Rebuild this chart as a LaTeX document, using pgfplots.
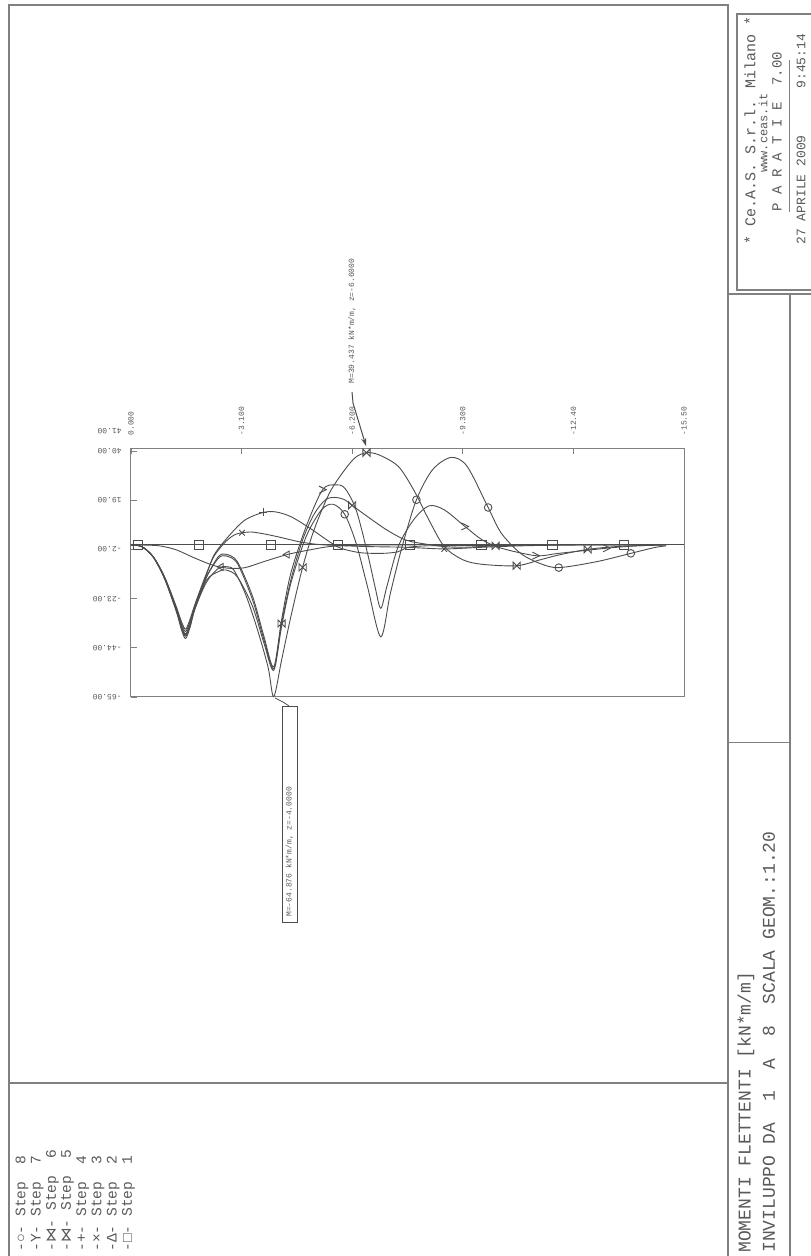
\documentclass[border=0pt]{standalone}
\usepackage{pgfplots}
\pgfplotsset{compat=1.18}
\usepackage{fontspec}
\setmainfont{Liberation Mono}
\newfontfamily\djv{DejaVu Sans}
\usetikzlibrary{arrows.meta}
\definecolor{ink}{gray}{0.3}
\definecolor{txt}{gray}{0.35}
\definecolor{frm}{gray}{0.5}

\pgfdeclareplotmark{bowtie}{%
 \pgfpathmoveto{\pgfqpoint{-\pgfplotmarksize}{\pgfplotmarksize}}%
 \pgfpathlineto{\pgfqpoint{-\pgfplotmarksize}{-\pgfplotmarksize}}%
 \pgfpathlineto{\pgfqpoint{\pgfplotmarksize}{\pgfplotmarksize}}%
 \pgfpathlineto{\pgfqpoint{\pgfplotmarksize}{-\pgfplotmarksize}}%
 \pgfpathclose\pgfusepathqstroke}
\pgfdeclareplotmark{chev}{%
 \pgfpathmoveto{\pgfqpoint{-\pgfplotmarksize}{\pgfplotmarksize}}%
 \pgfpathlineto{\pgfqpoint{\pgfplotmarksize}{0pt}}%
 \pgfpathlineto{\pgfqpoint{-\pgfplotmarksize}{-\pgfplotmarksize}}%
 \pgfusepathqstroke}

\begin{document}
\begin{tikzpicture}
\begin{scope}[x=0.5pt,y=-0.5pt]
\path[use as bounding box] (0,0) rectangle (810,1256);
% frame
\draw[frm, line width=0.6pt] (9,1256) -- (9,5) -- (728,5) -- (728,1256);
\draw[frm, line width=0.6pt] (9,1083) -- (728,1083);
\draw[frm, line width=0.6pt] (737,14) rectangle (815,290);
\draw[frm, line width=0.6pt] (728,294) -- (812,294);
\draw[frm, line width=0.6pt] (790,294) -- (790,1256);
\draw[frm, line width=0.5pt] (728,742) -- (790,742);
% title strip
\node[rotate=90, anchor=west, text=txt, font=\fontsize{9}{9}\selectfont, inner sep=0pt] at (746,1253) {MOMENTI FLETTENTI [kN*m/m]};
\node[rotate=90, anchor=west, text=txt, font=\fontsize{9}{9}\selectfont, inner sep=0pt] at (769,1253) {INVILUPPO DA~~1~~A~~8~~SCALA GEOM.:1.20};
% title block
\node[rotate=90, anchor=west, text=txt, font=\fontsize{7.5}{7.5}\selectfont, inner sep=0pt] at (750,245) {* Ce.A.S. S.r.l. Milano *};
\node[rotate=90, text=txt, font=\fontsize{6}{6}\selectfont, inner sep=0pt] at (763,133) {www.ceas.it};
\node[rotate=90, anchor=west, text=txt, font=\fontsize{7}{7}\selectfont, inner sep=0pt] at (777,212) {P A R A T I E~~7.00};
\draw[frm, line width=0.5pt] (789,60) -- (789,212);
\node[rotate=90, anchor=west, text=txt, font=\fontsize{6.5}{6.5}\selectfont, inner sep=0pt] at (801,245) {27 APRILE 2009~~~~~~9:45:14};
% legend
\foreach \i/\m in {0/{-○-},1/{-Y-},2/{-{\djv ⋈}-},3/{-{\djv ⋈}-},4/{-+-},5/{-×-},6/{-Δ-},7/{-□-}}{
  \pgfmathtruncatemacro{\s}{8-\i}
  \node[rotate=90, anchor=west, text=txt, font=\fontsize{7.3}{7.3}\selectfont, inner sep=0pt] at (22+15.2*\i,1252) {\m~Step~~\s};
}
% annotations
\draw[ink, line width=0.4pt] (275,698) -- (283,702) -- (289,706);
\draw[ink, line width=0.5pt] (282,706) rectangle (297,922);
\node[rotate=90, anchor=west, text=txt, font=\fontsize{4}{4}\selectfont, inner sep=0pt] at (289.5,917) {M=-64.876 kN*m/m, z=-4.0000};
\node[rotate=90, anchor=west, text=txt, font=\fontsize{4}{4}\selectfont, inner sep=0pt] at (352,384) {M=39.437 kN*m/m, z=-6.6000};
\draw[ink, line width=0.5pt, -{Stealth[length=4pt,width=2.5pt]}] (352,392) -- (353,403) -- (366,446);
\node[rotate=180, anchor=west, text=txt, font=\fontsize{4}{4}\selectfont, inner sep=0pt] at (122,431) {41.00};
\end{scope}

\begin{axis}[
  at={(65.5pt,-224pt)}, anchor=north west,
  scale only axis, width=276.5pt, height=124.5pt,
  xmin=-15.5, xmax=0, x dir=reverse, ymin=-65, ymax=41.43,
  axis line style={frm, line width=0.5pt},
  xtick={0,-3.1,-6.2,-9.3,-12.4,-15.5},
  xticklabels={0.000,-3.100,-6.200,-9.300,-12.40,-15.50},
  xtick pos=right, xticklabel pos=right, ytick pos=left,
  tick align=inside, major tick length=3pt,
  tick style={frm, line width=0.4pt},
  ytick={-65,-44,-23,-2,19,40},
  yticklabels={-65.00,-44.00,-23.00,-2.00,19.00,40.00},
  x tick label style={rotate=90, anchor=west, inner xsep=6pt, inner ysep=0pt, font=\fontsize{4}{4}\selectfont, text=txt},
  y tick label style={rotate=180, anchor=west, inner xsep=4.5pt, inner ysep=0pt, font=\fontsize{4}{4}\selectfont, text=txt},
  clip=false,
  every axis plot/.append style={ink, line width=0.45pt},
]
% Step 1
\addplot[no marks] coordinates {(0,0) (-15.5,0)};
\addplot[only marks, mark=square, mark size=2.3pt] coordinates {(-0.19,0) (-1.91,0) (-3.92,0) (-5.80,0) (-7.81,0) (-9.82,0) (-11.81,0) (-13.82,0)};
% Step 2
\addplot[smooth, no marks] coordinates {(0,0) (-0.5,-0.1) (-0.84,-0.5) (-1.27,-2.1) (-1.80,-5.7) (-2.34,-8.9) (-2.77,-10.0) (-3.20,-9.7) (-3.73,-7.1) (-4.38,-4.1) (-5.02,-2.1) (-5.56,-0.7) (-6.2,-0.2) (-7.0,0) (-8.0,0)};
\addplot[only marks, mark=triangle, mark size=2pt, mark options={rotate=90}] coordinates {(-2.53,-9.4) (-4.38,-4.1)};
% Step 3
\addplot[smooth, no marks] coordinates {(0,0) (-0.30,-0.7) (-0.62,-5.0) (-0.94,-13.6) (-1.27,-26.4) (-1.42,-33) (-1.53,-36) (-1.65,-32) (-1.80,-25) (-2.12,-12) (-2.34,-4.5) (-2.66,1.5) (-2.90,4.3) (-3.11,5.2) (-3.40,5.5) (-3.80,4.5) (-4.20,3.2) (-4.70,1.4) (-5.13,0.4) (-5.56,-0.1) (-6.63,-0.7) (-7.70,-1.0) (-8.78,-1.7) (-9.85,-1.0) (-10.92,-0.4) (-12.0,-0.1) (-13.5,0) (-15.0,0)};
\addplot[only marks, mark=x, mark size=2pt] coordinates {(-3.11,5.2) (-8.78,-1.7)};
% Step 4
\addplot[smooth, no marks] coordinates {(0,0) (-0.30,-0.7) (-0.62,-5.0) (-0.94,-13.8) (-1.27,-27) (-1.42,-34) (-1.53,-37) (-1.65,-33) (-1.80,-26) (-2.12,-12.5) (-2.34,-4) (-2.77,4.3) (-3.20,10.7) (-3.71,13.9) (-4.06,14.1) (-4.48,12.1) (-5.02,7.1) (-5.56,1.4) (-5.88,-1.4) (-6.42,-3.3) (-7.06,-3.6) (-7.49,-2.9) (-7.75,-1.1) (-8.24,-0.4) (-9,-0.3) (-10,-0.2) (-12,0) (-15,0)};
\addplot[only marks, mark=+, mark size=2pt] coordinates {(-3.71,13.9)};
% Step 5
\addplot[smooth, no marks] coordinates {(0,0) (-0.30,-0.7) (-0.62,-5.0) (-0.94,-14) (-1.27,-27.5) (-1.42,-35) (-1.53,-38) (-1.65,-34) (-1.80,-26) (-2.12,-13.6) (-2.45,-5.7) (-2.66,-4.7) (-2.98,-7.9) (-3.41,-23.6) (-3.73,-40.7) (-4.00,-52.9) (-4.22,-33.6) (-4.48,-15.0) (-4.81,2.1) (-5.13,13.1) (-5.45,19.3) (-5.72,20.3) (-5.99,19.3) (-6.20,16.9) (-6.63,12.1) (-7.17,6.4) (-7.70,2.1) (-8.24,0.4) (-8.78,-0.7) (-9.31,-1.0) (-10.22,-0.4) (-11,-0.1) (-12,0)};
\addplot[only marks, mark=bowtie, mark size=1.8pt] coordinates {(-4.22,-33.6) (-6.20,16.9) (-10.22,-0.4)};
% Step 6
\addplot[smooth, no marks] coordinates {(0,0) (-0.30,-0.7) (-0.62,-5.2) (-0.94,-14.5) (-1.27,-28.5) (-1.42,-36.5) (-1.53,-40) (-1.65,-35.5) (-1.80,-27) (-2.12,-15.8) (-2.45,-10.0) (-2.66,-9.3) (-2.88,-10.7) (-3.20,-20.7) (-3.52,-35.0) (-3.84,-52.1) (-4.00,-64.876) (-4.22,-49.3) (-4.48,-30.7) (-4.81,-9.6) (-5.13,6.4) (-5.56,22.1) (-5.99,32.1) (-6.30,37.5) (-6.60,39.437) (-6.95,38.5) (-7.49,33.6) (-7.92,23.6) (-8.35,10.7) (-8.78,-0.7) (-9.31,-6.4) (-9.85,-8.3) (-10.81,-8.9) (-11.46,-6.4) (-11.99,-4.3) (-12.80,-1.9) (-13.60,-0.7) (-14.35,-0.3) (-15.0,0)};
\addplot[only marks, mark=bowtie, mark size=1.8pt] coordinates {(-4.81,-9.6) (-6.60,39.437) (-10.81,-8.9) (-12.80,-1.9)};
% Step 7
\addplot[smooth, no marks] coordinates {(0,0) (-0.30,-0.7) (-0.62,-5.0) (-0.94,-14) (-1.27,-27.5) (-1.42,-35) (-1.53,-38.5) (-1.65,-34) (-1.80,-26) (-2.12,-13.6) (-2.45,-5.0) (-2.66,-4.0) (-2.98,-7.1) (-3.41,-22.1) (-3.73,-39.3) (-4.00,-52.1) (-4.22,-32.1) (-4.48,-12.1) (-4.91,7.9) (-5.37,23.6) (-5.72,25.7) (-5.99,24.3) (-6.31,15.0) (-6.63,-3.6) (-6.84,-17.9) (-7.00,-27.1) (-7.17,-17.9) (-7.49,-0.7) (-7.92,10.7) (-8.35,16.7) (-8.78,15.0) (-9.36,7.9) (-9.85,2.1) (-10.38,-1.4) (-11.35,-4.6) (-11.99,-3.6) (-13.33,-1.4) (-14.14,-0.4) (-14.7,0)};
\addplot[only marks, mark=chev, mark size=1.8pt] coordinates {(-5.37,23.6) (-9.36,7.9) (-11.35,-4.6) (-13.33,-1.4)};
% Step 8
\addplot[smooth, no marks] coordinates {(0,0) (-0.30,-0.7) (-0.62,-5.1) (-0.94,-14.2) (-1.27,-28) (-1.42,-36) (-1.53,-39) (-1.65,-35) (-1.80,-27) (-2.12,-15) (-2.45,-11.4) (-2.66,-10.7) (-2.98,-13.6) (-3.41,-26.4) (-3.73,-42.1) (-4.00,-53.6) (-4.22,-35.0) (-4.48,-16.4) (-4.91,3.6) (-5.34,15.0) (-5.66,17.4) (-5.99,13.1) (-6.31,0.7) (-6.63,-17.9) (-7.00,-39.3) (-7.27,-20.7) (-7.60,-0.7) (-8.00,19.3) (-8.45,32.1) (-8.97,37.4) (-9.42,33.6) (-10.01,16.0) (-10.38,5.0) (-10.92,-3.6) (-11.46,-7.9) (-11.99,-9.7) (-13.07,-7.1) (-14.01,-3.6) (-14.68,-1.1) (-15.0,-0.4)};
\addplot[only marks, mark=o, mark size=1.9pt] coordinates {(-5.99,13.1) (-8.00,19.3) (-10.01,16.0) (-11.99,-9.7) (-14.01,-3.6)};
\end{axis}
\end{tikzpicture}
\end{document}
